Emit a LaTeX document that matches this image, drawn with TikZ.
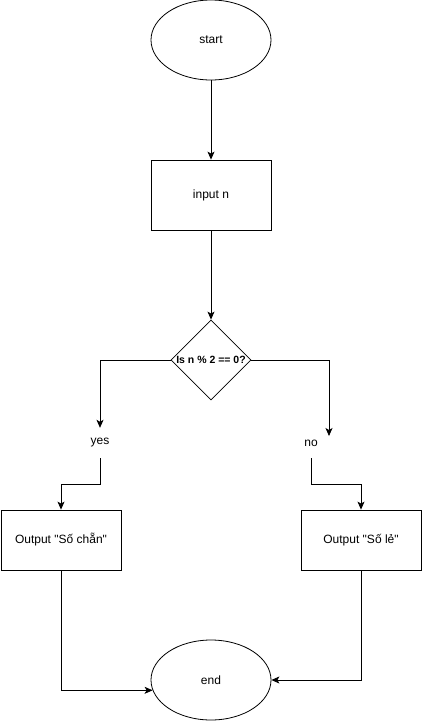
\documentclass[tikz,border=0pt]{standalone}
\usepackage{fontspec}
\setmainfont{Liberation Sans}[Ligatures=TeXOff]
\usepackage{tikz}
\usetikzlibrary{arrows.meta,positioning,shapes.geometric,calc}

\begin{document}
\begin{tikzpicture}[
  x=1pt,y=-1pt,
  font=\fontsize{12}{14}\selectfont,
  term/.style={draw=black,fill=white,ellipse,minimum width=120pt,minimum height=80pt,inner sep=0pt,line width=0.8pt},
  proc/.style={draw=black,fill=white,rectangle,minimum width=120pt,inner sep=0pt,align=center,line width=0.8pt},
  cond/.style={draw=black,fill=white,diamond,minimum width=80pt,minimum height=80pt,inner sep=0pt,font=\fontsize{10.5}{12}\selectfont\bfseries,line width=0.8pt},
  lbl/.style={minimum height=30pt,inner sep=0pt},
  arr/.style={draw=black,line width=0.8pt,-{Stealth[length=8pt,width=7pt,inset=2pt]}},
  ln/.style={draw=black,line width=0.8pt}
]
\useasboundingbox[fill=white] (0,0) rectangle (421,721);

\node[term] (start) at (211,40) {start};
\node[proc,minimum height=70pt] (inp) at (211,195) {input n};
\node[cond] (dec) at (211,360) {Is n \% 2 == 0?};
\node[lbl] (yes) at (100,443) {yes};
\node[lbl] (no) at (311,443) {no};
\coordinate (noin) at (329,436);
\node[proc,minimum height=60pt] (even) at (61,540) {Output "Số chẵn"};
\node[proc,minimum height=60pt] (odd) at (361,540) {Output "Số lẻ"};
\node[term] (stop) at (211,680) {end};

\draw[arr] (start) -- (inp);
\draw[arr] (inp) -- (dec);
\draw[arr] (dec.west) -| (yes.north);
\draw[arr] (dec.east) -| (noin);
\draw[arr] (yes.south) |- ($(yes.south)!.5!(even.north)$) -| (even.north);
\draw[arr] (no.south) |- ($(no.south)!.5!(odd.north)$) -| (odd.north);
\draw[arr] (even.south) |- (stop.190);
\draw[arr] (odd.south) |- (stop.east);
\end{tikzpicture}
\end{document}
